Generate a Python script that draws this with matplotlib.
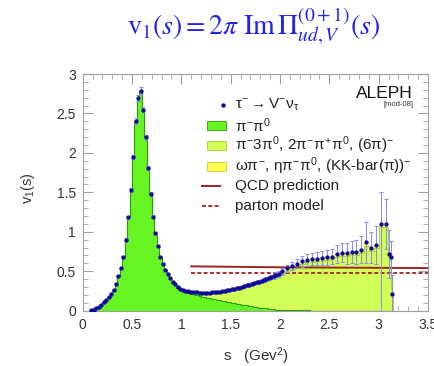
import numpy as np
import matplotlib
matplotlib.use("Agg")
import matplotlib.pyplot as plt
from matplotlib.patches import Rectangle
from matplotlib.lines import Line2D

plt.rcParams['font.family'] = ['Liberation Sans', 'DejaVu Sans']
plt.rcParams['mathtext.fontset'] = 'custom'
plt.rcParams['mathtext.rm'] = 'Liberation Sans'
plt.rcParams['mathtext.it'] = 'Liberation Sans'
plt.rcParams['mathtext.sf'] = 'Liberation Sans'
plt.rcParams['mathtext.bf'] = 'Liberation Sans:bold'

# ---------------- data ----------------
s_edges = np.concatenate([np.linspace(0.075, 2.0, 78),
                          np.linspace(2.05, 3.0, 20),
                          [3.05, 3.09, 3.11, 3.13, 3.15]])

v1_total = [
    0.004, 0.013, 0.030, 0.050, 0.076, 0.107, 0.140, 0.172, 0.212, 0.262,
    0.335, 0.435, 0.535, 0.685, 0.900, 1.185, 1.525, 1.950, 2.405, 2.700,
    2.790, 2.550, 2.200, 1.805, 1.480, 1.190, 0.980, 0.815, 0.680, 0.590,
    0.520, 0.462, 0.410, 0.370, 0.335, 0.305, 0.280, 0.262, 0.251, 0.244,
    0.238, 0.236, 0.233, 0.231, 0.229, 0.230, 0.228, 0.229, 0.230, 0.232,
    0.235, 0.237, 0.242, 0.246, 0.250, 0.257, 0.262, 0.270, 0.276, 0.286,
    0.292, 0.302, 0.309, 0.320, 0.327, 0.339, 0.347, 0.359, 0.368, 0.381,
    0.390, 0.405, 0.414, 0.429, 0.438, 0.453, 0.464,
    0.500, 0.535, 0.565, 0.595, 0.625, 0.645, 0.655, 0.660, 0.668, 0.680,
    0.686, 0.720, 0.735, 0.728, 0.742, 0.748, 0.775, 0.870, 0.800, 0.830,
    1.100, 1.100, 0.720, 0.680, 0.210]

v1_err = [
    0.002, 0.003, 0.004, 0.004, 0.005, 0.005, 0.006, 0.006, 0.007, 0.008,
    0.009, 0.010, 0.011, 0.013, 0.016, 0.019, 0.024, 0.028, 0.033, 0.037,
    0.040, 0.037, 0.032, 0.027, 0.022, 0.018, 0.015, 0.012, 0.010, 0.009,
    0.008, 0.008, 0.007, 0.007, 0.007, 0.007, 0.007, 0.007, 0.007, 0.007,
    0.008, 0.008, 0.008, 0.008, 0.009, 0.009, 0.009, 0.010, 0.010, 0.010,
    0.011, 0.011, 0.012, 0.012, 0.013, 0.013, 0.014, 0.014, 0.015, 0.015,
    0.016, 0.016, 0.017, 0.018, 0.018, 0.019, 0.020, 0.021, 0.022, 0.023,
    0.024, 0.025, 0.026, 0.028, 0.030, 0.032, 0.034,
    0.045, 0.050, 0.055, 0.060, 0.070, 0.075, 0.080, 0.085, 0.090, 0.095,
    0.100, 0.110, 0.120, 0.130, 0.140, 0.150, 0.170, 0.260, 0.200, 0.240]
tail_err_lo = [1.100, 0.320, 0.300, 0.200, 0.210]
tail_err_hi = [0.400, 0.320, 0.300, 0.200, 0.240]

v1_pipi = [
    0.004, 0.013, 0.030, 0.050, 0.076, 0.107, 0.140, 0.172, 0.212, 0.262,
    0.335, 0.435, 0.535, 0.685, 0.900, 1.185, 1.525, 1.950, 2.405, 2.700,
    2.790, 2.550, 2.200, 1.805, 1.480, 1.190, 0.978, 0.812, 0.676, 0.584,
    0.512, 0.452, 0.398, 0.356, 0.320, 0.292, 0.268, 0.250, 0.236,
    0.226, 0.218, 0.210, 0.202, 0.194, 0.186, 0.178, 0.171, 0.164, 0.157,
    0.150, 0.143, 0.136, 0.130, 0.124, 0.118, 0.112, 0.106, 0.100, 0.095,
    0.090, 0.084, 0.078, 0.072, 0.066, 0.060, 0.055, 0.050, 0.045, 0.040,
    0.036, 0.032, 0.028, 0.024, 0.021, 0.018, 0.015, 0.012,
    0.010, 0.008, 0.006, 0.005, 0.004, 0.003, 0.002, 0.002, 0.001, 0.001,
    0, 0, 0, 0, 0, 0, 0, 0, 0, 0,
    0, 0, 0, 0, 0]

v1_other = [0.0] * 28 + [
    0.002, 0.004, 0.006, 0.008, 0.010, 0.012, 0.013, 0.014, 0.015, 0.016, 0.016,
    0.017, 0.017, 0.018, 0.018, 0.018, 0.019, 0.019, 0.019, 0.020, 0.020,
    0.020, 0.021, 0.021, 0.021, 0.022, 0.022, 0.022, 0.023, 0.023, 0.023,
    0.024, 0.024, 0.024, 0.025, 0.025, 0.025, 0.026, 0.026, 0.026, 0.027,
    0.027, 0.027, 0.028, 0.028, 0.028, 0.029, 0.029, 0.029,
    0.030, 0.031, 0.032, 0.033, 0.034, 0.034, 0.035, 0.035, 0.036, 0.036,
    0.037, 0.037, 0.038, 0.038, 0.039, 0.039, 0.040, 0.045, 0.040, 0.040,
    0.045, 0.045, 0.040, 0.035, 0.020]

qcd_s = [1.1, 2.0, 3.5]
qcd_v = [0.562, 0.550, 0.540]
parton_s = [1.1, 3.5]
parton_v = [0.478, 0.478]

x_ticks = [0, 0.5, 1, 1.5, 2, 2.5, 3, 3.5]
x_tick_labels = ['0', '0.5', '1', '1.5', '2', '2.5', '3', '3.5']
y_ticks = [0, 0.5, 1, 1.5, 2, 2.5, 3]
y_tick_labels = ['0', '0.5', '1', '1.5', '2', '2.5', '3']

legend_labels = [
    r'$\tau^{-}\rightarrow\mathrm{V}^{-}\nu_{\tau}$',
    r'$\pi^{-}\pi^{0}$',
    r'$\pi^{-}3\pi^{0}$, $2\pi^{-}\pi^{+}\pi^{0}$, $(6\pi)^{-}$',
    r'$\omega\pi^{-}$, $\eta\pi^{-}\pi^{0}$, (KK-bar($\pi$))$^{-}$',
    'QCD prediction',
    'parton model',
]

# ---------------- styles ----------------
GREEN = '#66f522'
GREEN_EDGE = '#2f9a0a'
LGREEN = '#d2ff55'
LGREEN_EDGE = '#a6cc30'
YELLOW = '#ffff50'
DOT = '#0d0d99'
ERR = '#8f8fe6'
RED = '#9b2424'
AXC = '#a0a0a0'
TXT = '#333333'

W, H = 434, 366
fig = plt.figure(figsize=(W / 100, H / 100), dpi=100)
ax_l, ax_r, ax_t, ax_b = 82.7, 428.0, 74.0, 310.7
ax = fig.add_axes([ax_l / W, 1 - ax_b / H, (ax_r - ax_l) / W, (ax_b - ax_t) / H])

total = np.array(v1_total)
pipi = np.array(v1_pipi)
other = np.array(v1_other)
centers = 0.5 * (s_edges[:-1] + s_edges[1:])
err_lo = np.concatenate([v1_err, tail_err_lo])
err_hi = np.concatenate([v1_err, tail_err_hi])

ax.stairs(total, s_edges, fill=True, color=YELLOW, zorder=1)
ax.stairs(total - other, s_edges, fill=True, color=LGREEN, zorder=2)
ax.stairs(total - other, s_edges, color=LGREEN_EDGE, lw=0.6, zorder=2.5)
ax.stairs(pipi, s_edges, fill=True, color=GREEN, zorder=3)
ax.stairs(pipi, s_edges, color=GREEN_EDGE, lw=0.8, zorder=3.5)

ax.plot(qcd_s, qcd_v, color=RED, lw=1.4, zorder=5)
ax.plot(parton_s, parton_v, color=RED, lw=1.3, ls=(0, (2.2, 1.3)), zorder=5)

ax.errorbar(centers, total, yerr=[err_lo, err_hi], fmt='o', ms=2.1,
            mfc=DOT, mec=DOT, ecolor=ERR, elinewidth=0.8, capsize=1.6,
            capthick=0.8, zorder=6)

ax.set_xlim(0, 3.5)
ax.set_ylim(0, 3)
ax.set_xticks(x_ticks, x_tick_labels)
ax.set_yticks(y_ticks, y_tick_labels)
ax.set_xticks(np.arange(0, 3.5001, 0.1), minor=True)
ax.set_yticks(np.arange(0, 3.0001, 0.1), minor=True)
ax.tick_params(which='both', direction='in', top=True, right=True,
               color=AXC, labelcolor=TXT, labelsize=10)
ax.tick_params(which='major', length=7, width=0.8)
ax.tick_params(which='minor', length=3.5, width=0.6)
ax.tick_params(axis='x', pad=5)
ax.tick_params(axis='y', pad=5)
for sp in ax.spines.values():
    sp.set_color(AXC)
    sp.set_linewidth(0.8)

def fx(px):
    return px / W

def fy(py):
    return 1 - py / H

# title
fig.text(fx(254), fy(26), r'$\mathrm{v}_1(s) = 2\pi\ \mathrm{Im}\,\Pi^{(0+1)}_{ud,V}(s)$',
         color='#2323e6', fontsize=20, ha='center', va='center',
         math_fontfamily='stix')

# axis labels
fig.text(fx(28), fy(188), r'v$_1$(s)', rotation=90, ha='center', va='center',
         fontsize=10.5, color=TXT)
fig.text(fx(256), fy(356), r's   (Gev$^2$)', ha='center', va='center',
         fontsize=11, color=TXT)

# ALEPH
fig.text(fx(413), fy(93), 'ALEPH', ha='right', va='center', fontsize=12.5,
         color='#111111')
fig.text(fx(413), fy(105), '[mod-08]', ha='right', va='center', fontsize=5.5,
         color=TXT)

# legend (manual)
rows = [105, 125.5, 145.5, 166, 186, 206]
tx = 235
fig.add_artist(Line2D([fx(222.5)], [fy(rows[0])], marker='o', ms=2.2,
                      color=DOT, transform=fig.transFigure))
for r, fc, ec in zip(rows[1:4], [GREEN, LGREEN, YELLOW],
                     [GREEN_EDGE, LGREEN_EDGE, '#cccc30']):
    fig.add_artist(Rectangle((fx(206.5), fy(r + 4.5)), 19 / W, 9 / H,
                             facecolor=fc, edgecolor=ec, lw=0.6,
                             transform=fig.transFigure))
fig.add_artist(Line2D([fx(201.5), fx(220)], [fy(rows[4])] * 2, color=RED,
                      lw=1.4, transform=fig.transFigure))
fig.add_artist(Line2D([fx(201.5), fx(220)], [fy(rows[5])] * 2, color=RED,
                      lw=1.3, ls=(0, (2.2, 1.3)), transform=fig.transFigure))
for r, lab in zip(rows, legend_labels):
    fig.text(fx(tx), fy(r), lab, ha='left', va='center', fontsize=11,
             color='#222222')

fig.savefig('out.png', dpi=100)
